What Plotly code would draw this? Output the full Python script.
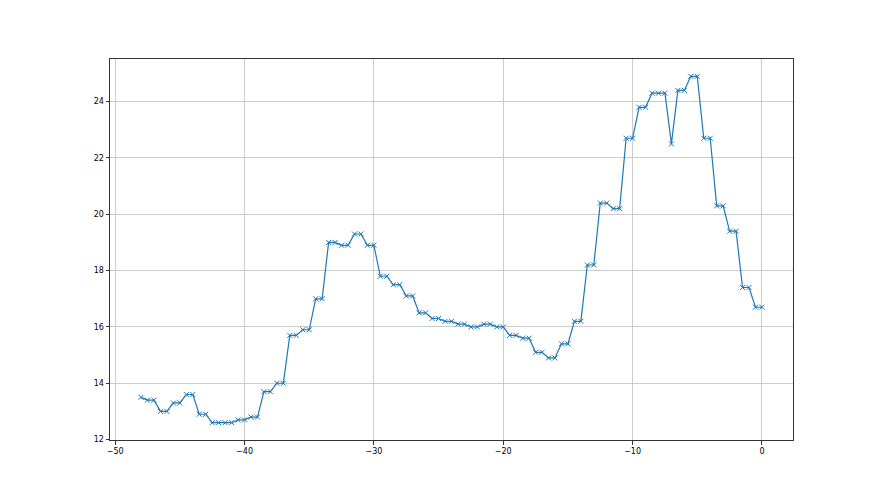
import plotly.graph_objects as go

x_vals = [i * 0.5 - 48 for i in range(97)]
y_vals = [
    13.5, 13.4, 13.4, 13.0, 13.0, 13.3, 13.3, 13.6, 13.6, 12.9,
    12.9, 12.6, 12.6, 12.6, 12.6, 12.7, 12.7, 12.8, 12.8, 13.7,
    13.7, 14.0, 14.0, 15.7, 15.7, 15.9, 15.9, 17.0, 17.0, 19.0,
    19.0, 18.9, 18.9, 19.3, 19.3, 18.9, 18.9, 17.8, 17.8, 17.5,
    17.5, 17.1, 17.1, 16.5, 16.5, 16.3, 16.3, 16.2, 16.2, 16.1,
    16.1, 16.0, 16.0, 16.1, 16.1, 16.0, 16.0, 15.7, 15.7, 15.6,
    15.6, 15.1, 15.1, 14.9, 14.9, 15.4, 15.4, 16.2, 16.2, 18.2,
    18.2, 20.4, 20.4, 20.2, 20.2, 22.7, 22.7, 23.8, 23.8, 24.3,
    24.3, 24.3, 22.5, 24.4, 24.4, 24.9, 24.9, 22.7, 22.7, 20.3,
    20.3, 19.4, 19.4, 17.4, 17.4, 16.7, 16.7,
]
x_ticks = [-50, -40, -30, -20, -10, 0]
y_ticks = [12, 14, 16, 18, 20, 22, 24]

color = "#1f77b4"
fig = go.Figure(go.Scatter(
    x=x_vals, y=y_vals, mode="lines+markers",
    line=dict(color=color, width=1.2),
    marker=dict(symbol="x-thin", size=5, line=dict(color=color, width=1)),
))

axis_common = dict(
    showline=True, linecolor="#333333", linewidth=1, mirror=True,
    ticks="outside", ticklen=3.5, tickwidth=0.8, tickcolor="#333333",
    showgrid=True, gridcolor="#cccccc", gridwidth=0.8,
    zeroline=False, tickfont=dict(family="DejaVu Sans", size=8, color="black"),
)
fig.update_xaxes(range=[-50.4, 2.4], tickvals=x_ticks, ticktext=[str(v).replace("-", "\u2212") for v in x_ticks], **axis_common)
fig.update_yaxes(range=[11.985, 25.515], tickvals=y_ticks, ticktext=[str(v) for v in y_ticks], **axis_common)
fig.update_layout(
    width=872, height=487,
    margin=dict(l=102, r=87, t=51, b=55),
    plot_bgcolor="white", paper_bgcolor="white",
    showlegend=False,
)
fig.write_html("out.html")
